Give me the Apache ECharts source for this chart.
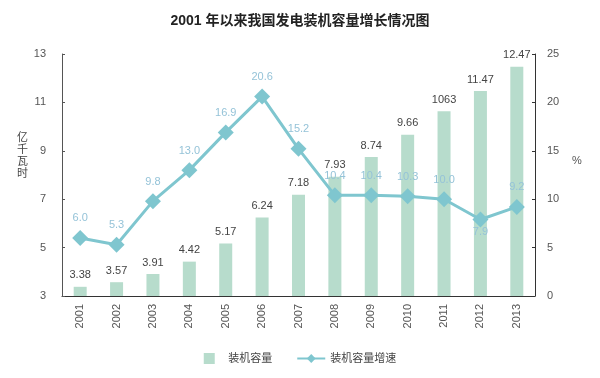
<!DOCTYPE html>
<html>
<head>
<meta charset="utf-8">
<script src="https://cdn.jsdelivr.net/npm/echarts@6/dist/echarts.min.js"></script>
<style>
  html, body { margin: 0; padding: 0; background: #fff; }
  #chart { width: 600px; height: 378px; }
</style>
</head>
<body>
<div id="chart"></div>
<script>
// data
const years = ['2001', '2002', '2003', '2004', '2005', '2006', '2007', '2008', '2009', '2010', '2011', '2012', '2013'];
const capacity = [3.38, 3.57, 3.91, 4.42, 5.17, 6.24, 7.18, 7.93, 8.74, 9.66, 10.63, 11.47, 12.47];
const capacityLabels = ['3.38', '3.57', '3.91', '4.42', '5.17', '6.24', '7.18', '7.93', '8.74', '9.66', '1063', '11.47', '12.47'];
const growth = [6.0, 5.3, 9.8, 13.0, 16.9, 20.6, 15.2, 10.4, 10.4, 10.3, 10.0, 7.9, 9.2];
const leftTicks = { min: 3, max: 13, interval: 2 };
const rightTicks = { min: 0, max: 25, interval: 5 };

const chart = echarts.init(document.getElementById('chart'), null, { renderer: 'canvas' });

const font = 'Arial, "Liberation Sans", "Noto Sans CJK SC", sans-serif';
const axisText = { color: '#555', fontSize: 11, fontFamily: font };

const option = {
    animation: false,
    backgroundColor: '#fff',
    title: {
        text: '2001 年以来我国发电装机容量增长情况图',
        left: 'center',
        top: 9,
        textStyle: { fontSize: 14, fontWeight: 'bold', color: '#222', fontFamily: font }
    },
    legend: {
        bottom: 9,
        left: 'center',
        itemGap: 24,
        itemWidth: 28,
        itemHeight: 11,
        textStyle: { color: '#444', fontSize: 11, fontFamily: font },
        data: [
            { name: '装机容量', icon: 'path://M0,0H10V10H0Z', itemStyle: { color: '#b7dccc' } },
            { name: '装机容量增速' }
        ]
    },
    grid: { left: 62, right: 65, top: 54, bottom: 82 },
    graphic: [
        {
            type: 'text', left: 17, top: 132,
            style: { text: '亿\n千\n瓦\n时', fill: '#444', fontSize: 11, lineHeight: 12, fontFamily: font }
        },
        {
            type: 'text', left: 572, top: 155,
            style: { text: '%', fill: '#555', fontSize: 11, fontFamily: font }
        }
    ],
    xAxis: {
        type: 'category',
        data: years,
        boundaryGap: true,
        axisLine: { lineStyle: { color: '#333', width: 1 } },
        axisTick: { inside: true, length: 3, lineStyle: { color: '#333' } },
        axisLabel: Object.assign({ rotate: 90, margin: 8 }, axisText)
    },
    yAxis: [
        {
            type: 'value',
            min: leftTicks.min, max: leftTicks.max, interval: leftTicks.interval,
            axisLine: { show: true, lineStyle: { color: '#555' } },
            axisTick: { show: true, inside: true, length: 3, lineStyle: { color: '#555' } },
            splitLine: { show: false },
            axisLabel: Object.assign({ margin: 16 }, axisText)
        },
        {
            type: 'value',
            min: rightTicks.min, max: rightTicks.max, interval: rightTicks.interval,
            axisLine: { show: true, lineStyle: { color: '#333' } },
            axisTick: { show: true, inside: true, length: 3, lineStyle: { color: '#333' } },
            splitLine: { show: false },
            axisLabel: Object.assign({ margin: 12 }, axisText)
        }
    ],
    series: [
        {
            name: '装机容量',
            type: 'bar',
            yAxisIndex: 0,
            data: capacity,
            barWidth: 13,
            itemStyle: { color: '#b7dccc' },
            label: {
                show: true,
                position: 'top',
                distance: 6,
                color: '#444',
                fontSize: 11,
                fontFamily: font,
                formatter: p => capacityLabels[p.dataIndex]
            }
        },
        {
            name: '装机容量增速',
            type: 'line',
            yAxisIndex: 1,
            data: growth,
            symbol: 'diamond',
            symbolSize: 16,
            lineStyle: { color: '#7fc6cf', width: 3 },
            itemStyle: { color: '#7fc6cf' },
            label: {
                show: true,
                position: 'top',
                distance: 6,
                color: '#95c3d8',
                fontSize: 11,
                fontFamily: font,
                formatter: p => p.value.toFixed(1)
            },
            labelLayout: p => p.dataIndex === 11 ? { dy: 32 } : {},
            z: 5
        }
    ]
};

chart.setOption(option);
</script>
</body>
</html>
